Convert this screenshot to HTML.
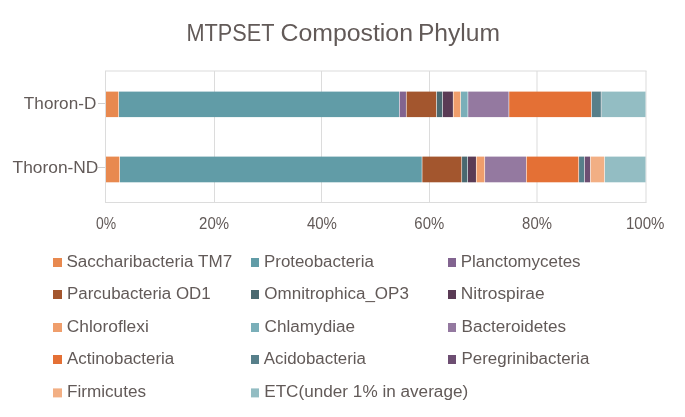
<!DOCTYPE html>
<html><head><meta charset="utf-8">
<style>
html,body{margin:0;padding:0;background:#fff;width:685px;height:417px;overflow:hidden}
svg{display:block}
text{font-family:"Liberation Sans",sans-serif;fill:#625a58}
svg text{filter:brightness(1.001)}
</style></head><body>
<svg width="685" height="417" viewBox="0 0 685 417">
<rect x="0" y="0" width="685" height="417" fill="#fff"/>

<text x="186.51" y="41.30" font-size="24.4" textLength="88.00" lengthAdjust="spacingAndGlyphs">MTPSET</text>
<text x="280.49" y="41.30" font-size="24.4" textLength="132.52" lengthAdjust="spacingAndGlyphs">Compostion</text>
<text x="417.94" y="41.30" font-size="24.4" textLength="82.13" lengthAdjust="spacingAndGlyphs">Phylum</text>
<g fill="#dcdcdc">
<rect x="105.0" y="71" width="1" height="131.5"/>
<rect x="214.0" y="71" width="1" height="131.5"/>
<rect x="321.0" y="71" width="1" height="131.5"/>
<rect x="429.0" y="71" width="1" height="131.5"/>
<rect x="536.5" y="71" width="1" height="131.5"/>
<rect x="645.5" y="71" width="1" height="131.5"/>
<rect x="105.0" y="70.5" width="541.5" height="1"/>
<rect x="105.0" y="202.0" width="541.5" height="1"/>
</g>
<g fill="#cfcfcf"><rect x="98" y="103" width="7" height="1"/><rect x="98" y="167" width="7" height="1"/></g>
<rect x="106.00" y="91.6" width="12.40" height="25.5" fill="#E8894F"/>
<rect x="119.00" y="91.6" width="280.05" height="25.5" fill="#619CA7"/>
<rect x="399.65" y="91.6" width="6.30" height="25.5" fill="#826490"/>
<rect x="406.55" y="91.6" width="29.65" height="25.5" fill="#A3562E"/>
<rect x="436.80" y="91.6" width="5.45" height="25.5" fill="#4A6970"/>
<rect x="442.85" y="91.6" width="10.05" height="25.5" fill="#5A3B55"/>
<rect x="453.50" y="91.6" width="6.85" height="25.5" fill="#EF9E6C"/>
<rect x="460.95" y="91.6" width="6.65" height="25.5" fill="#7AAFB9"/>
<rect x="468.20" y="91.6" width="40.40" height="25.5" fill="#9479A0"/>
<rect x="509.20" y="91.6" width="82.00" height="25.5" fill="#E47035"/>
<rect x="591.80" y="91.6" width="9.10" height="25.5" fill="#577F8A"/>
<rect x="600.90" y="91.6" width="1.00" height="25.5" fill="#bccbcf"/>
<rect x="601.90" y="91.6" width="43.60" height="25.5" fill="#93BDC3"/>
<rect x="106.00" y="156.6" width="13.40" height="25.7" fill="#E8894F"/>
<rect x="120.00" y="156.6" width="301.75" height="25.7" fill="#619CA7"/>
<rect x="422.35" y="156.6" width="39.10" height="25.7" fill="#A3562E"/>
<rect x="462.05" y="156.6" width="5.35" height="25.7" fill="#4A6970"/>
<rect x="468.00" y="156.6" width="7.95" height="25.7" fill="#5A3B55"/>
<rect x="476.55" y="156.6" width="7.90" height="25.7" fill="#EF9E6C"/>
<rect x="485.05" y="156.6" width="40.95" height="25.7" fill="#9479A0"/>
<rect x="526.60" y="156.6" width="51.85" height="25.7" fill="#E47035"/>
<rect x="579.05" y="156.6" width="5.10" height="25.7" fill="#577F8A"/>
<rect x="584.75" y="156.6" width="5.35" height="25.7" fill="#6D4E72"/>
<rect x="590.70" y="156.6" width="13.60" height="25.7" fill="#F2AF84"/>
<rect x="604.90" y="156.6" width="40.60" height="25.7" fill="#93BDC3"/>
<text x="23.89" y="108.90" font-size="17.0" textLength="72.40" lengthAdjust="spacingAndGlyphs">Thoron-D</text>
<text x="12.60" y="173.40" font-size="17.0" textLength="85.80" lengthAdjust="spacingAndGlyphs">Thoron-ND</text>
<text x="95.94" y="228.60" font-size="16.3" textLength="20.12" lengthAdjust="spacingAndGlyphs">0%</text>
<text x="199.09" y="228.60" font-size="16.3" textLength="29.94" lengthAdjust="spacingAndGlyphs">20%</text>
<text x="306.88" y="228.60" font-size="16.3" textLength="30.09" lengthAdjust="spacingAndGlyphs">40%</text>
<text x="414.36" y="228.60" font-size="16.3" textLength="29.84" lengthAdjust="spacingAndGlyphs">60%</text>
<text x="522.11" y="228.60" font-size="16.3" textLength="29.80" lengthAdjust="spacingAndGlyphs">80%</text>
<text x="625.89" y="228.60" font-size="16.3" textLength="38.53" lengthAdjust="spacingAndGlyphs">100%</text>
<rect x="53" y="258" width="9" height="9" fill="#E8894F"/>
<text x="66.40" y="266.80" font-size="17.25" textLength="165.80" lengthAdjust="spacingAndGlyphs">Saccharibacteria TM7</text>
<rect x="251" y="258" width="8" height="9" fill="#619CA7"/>
<text x="264.01" y="266.80" font-size="17.25" textLength="109.79" lengthAdjust="spacingAndGlyphs">Proteobacteria</text>
<rect x="448" y="258" width="8" height="9" fill="#826490"/>
<text x="460.69" y="266.80" font-size="17.25" textLength="119.91" lengthAdjust="spacingAndGlyphs">Planctomycetes</text>
<rect x="53" y="290" width="9" height="9" fill="#A3562E"/>
<text x="67.00" y="299.10" font-size="17.25" textLength="143.70" lengthAdjust="spacingAndGlyphs">Parcubacteria OD1</text>
<rect x="251" y="290" width="8" height="9" fill="#4A6970"/>
<text x="264.30" y="299.10" font-size="17.25" textLength="144.61" lengthAdjust="spacingAndGlyphs">Omnitrophica_OP3</text>
<rect x="448" y="290" width="8" height="9" fill="#5A3B55"/>
<text x="460.78" y="299.10" font-size="17.25" textLength="83.84" lengthAdjust="spacingAndGlyphs">Nitrospirae</text>
<rect x="53" y="323" width="9" height="9" fill="#EF9E6C"/>
<text x="66.74" y="331.80" font-size="17.25" textLength="82.08" lengthAdjust="spacingAndGlyphs">Chloroflexi</text>
<rect x="251" y="323" width="8" height="9" fill="#7AAFB9"/>
<text x="264.54" y="331.80" font-size="17.25" textLength="90.58" lengthAdjust="spacingAndGlyphs">Chlamydiae</text>
<rect x="448" y="323" width="8" height="9" fill="#9479A0"/>
<text x="461.49" y="331.80" font-size="17.25" textLength="104.51" lengthAdjust="spacingAndGlyphs">Bacteroidetes</text>
<rect x="53" y="355" width="9" height="9" fill="#E47035"/>
<text x="67.00" y="364.30" font-size="17.25" textLength="107.21" lengthAdjust="spacingAndGlyphs">Actinobacteria</text>
<rect x="251" y="355" width="8" height="9" fill="#577F8A"/>
<text x="263.79" y="364.30" font-size="17.25" textLength="102.21" lengthAdjust="spacingAndGlyphs">Acidobacteria</text>
<rect x="448" y="355" width="8" height="9" fill="#6D4E72"/>
<text x="461.50" y="364.30" font-size="17.25" textLength="127.90" lengthAdjust="spacingAndGlyphs">Peregrinibacteria</text>
<rect x="53" y="388.4" width="9" height="9" fill="#F2AF84"/>
<text x="67.00" y="396.80" font-size="17.25" textLength="79.00" lengthAdjust="spacingAndGlyphs">Firmicutes</text>
<rect x="251" y="388.4" width="8" height="9" fill="#93BDC3"/>
<text x="264.19" y="396.80" font-size="17.25" textLength="204.02" lengthAdjust="spacingAndGlyphs">ETC(under 1% in average)</text>
</svg>
</body></html>
